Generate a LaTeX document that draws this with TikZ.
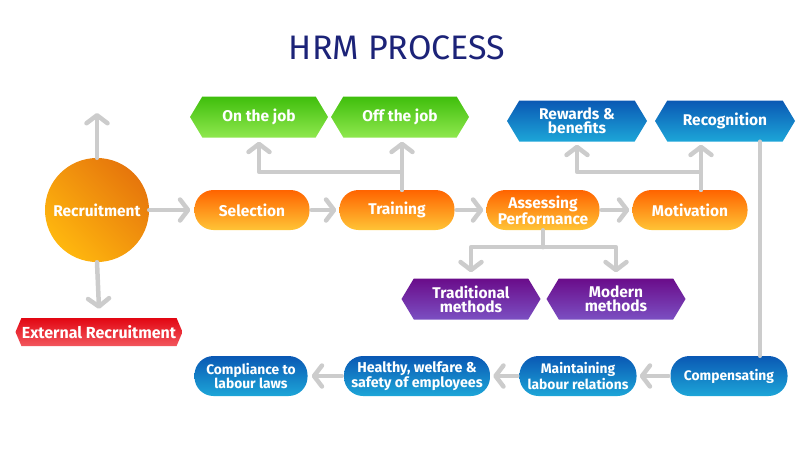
\documentclass[tikz,border=0pt]{standalone}
\usepackage{fontspec}
\setmainfont{Fira Sans}
\usetikzlibrary{arrows.meta,shapes.symbols}
\definecolor{connGray}{HTML}{CCCCCC}
\definecolor{titleBlue}{HTML}{1C2378}
\definecolor{orTop}{HTML}{FF6400}
\definecolor{orBot}{HTML}{FFC436}
\definecolor{grTop}{HTML}{3FBE0C}
\definecolor{grBot}{HTML}{8FE84E}
\definecolor{blTop}{HTML}{0A58B4}
\definecolor{blBot}{HTML}{1DA6D8}
\definecolor{puTop}{HTML}{6A0C8A}
\definecolor{puBot}{HTML}{7B4FC2}
\definecolor{reTop}{HTML}{E20612}
\definecolor{reBot}{HTML}{F2565D}
\definecolor{ciDark}{HTML}{E6760C}
\definecolor{ciLight}{HTML}{FFB70E}
\begin{document}
\begin{tikzpicture}[x=1pt,y=-1pt,
  lbl/.style={text=white, font=\bfseries\fontsize{15.5}{14}\selectfont, align=center, inner sep=0pt},
  small/.style={font=\bfseries\fontsize{13.8}{13}\selectfont},
  pill/.style={lbl, rectangle, rounded corners=19pt, minimum height=40pt},
  orpill/.style={pill, top color=orTop, bottom color=orBot, minimum width=115pt},
  blpill/.style={pill, small, top color=blTop, bottom color=blBot, minimum width=117pt},
  hexa/.style={lbl, signal, signal to=west and east, signal pointer angle=118, minimum height=41pt},
  grhex/.style={hexa, top color=grTop, bottom color=grBot, minimum width=138pt},
  blhex/.style={hexa, top color=blTop, bottom color=blBot, minimum width=140pt},
  puhex/.style={hexa, top color=puTop, bottom color=puBot, minimum width=139pt},
  conn/.style={draw=connGray, line width=4.5pt, line cap=round, line join=round},
  arr/.style={conn, -{Straight Barb[length=8pt,width=21pt,line cap=round,line join=round]}}
]
\useasboundingbox (0,0) rectangle (810,450);

\node[text=titleBlue, font=\fontsize{34}{34}\selectfont] (title) at (397,48) {HRM PROCESS};

% recruitment
\node[circle, minimum size=104pt, lbl, top color=ciDark, bottom color=ciLight, shading angle=-45] (rec) at (97,210) {Recruitment};
\node[lbl, signal, signal to=west and east, signal pointer angle=134, minimum height=28pt, minimum width=167pt, top color=reTop, bottom color=reBot, font=\bfseries\fontsize{16}{14}\selectfont] (ext) at (99,332) {External Recruitment};
\coordinate (recup) at (97,113);
\draw[arr] (rec.north) -- (recup);
\draw[arr] (rec.south) -- ([yshift=9pt]ext.north);

% main row
\node[orpill] (sel) at (252,210) {Selection};
\node[orpill] (trn) at (397,210) {Training};
\node[orpill, minimum width=113pt] (asp) at (543,210) {Assessing\\Performance};
\node[orpill] (mot) at (690,210) {Motivation};

\draw[arr] (rec.east) -- ([xshift=-4pt]sel.west);
\draw[arr] ([xshift=2pt]sel.east) -- ([xshift=-3pt]trn.west);
\draw[arr] ([xshift=2pt]trn.east) -- ([xshift=-3pt]asp.west);
\draw[arr] ([xshift=2pt]asp.east) -- ([xshift=-3pt]mot.west);

% training branches
\node[grhex] (onj) at (259,117) {On the job};
\node[grhex] (offj) at (400,117) {Off the job};
\coordinate (ttop) at ([xshift=5pt]trn.north);
\draw[arr] (ttop) -- ([yshift=-4pt]ttop |- offj.south);
\draw[arr] (ttop) -- ++(0,-18) -| ([yshift=-4pt]onj.south);

% motivation branches
\node[blhex] (rwd) at (577,121) {Rewards \&\\benefits};
\node[blhex] (rcg) at (725,121) {Recognition};
\coordinate (mtop) at ([xshift=11pt]mot.north);
\draw[arr] (mtop) -- ([yshift=-3pt]mtop |- rcg.south);
\draw[arr] (mtop) -- ++(0,-18) -| ([yshift=-3pt]rwd.south);

% assessing branches
\node[puhex] (trad) at (471,299) {Traditional\\methods};
\node[puhex] (modm) at (616,299) {Modern\\methods};
\draw[conn] (asp.south) -- ++(0,17) coordinate (aj);
\draw[arr] (aj) -| ([yshift=6pt]trad.north);
\draw[arr] (aj) -| ([yshift=6pt]modm.north);

% bottom row
\node[blpill, minimum width=117pt] (comp) at (729,376) {Compensating};
\node[blpill, minimum width=117pt] (mnt) at (578,376) {Maintaining\\labour relations};
\node[blpill, minimum width=146pt, font=\bfseries\fontsize{14.3}{13}\selectfont] (hlt) at (417,376) {Healthy, welfare \&\\safety of employees};
\node[blpill, minimum width=113pt] (cmp) at (251,376) {Compliance to\\labour laws};

\coordinate (rdown) at ([xshift=35pt]rcg.south);
\draw[conn] (rdown) -- (rdown |- comp.north);

\draw[arr] ([xshift=-2pt]comp.west) -- ([xshift=3pt]mnt.east);
\draw[arr] ([xshift=-2pt]mnt.west) -- ([xshift=3pt]hlt.east);
\draw[arr] ([xshift=-2pt]hlt.west) -- ([xshift=4pt]cmp.east);
\end{tikzpicture}
\end{document}
